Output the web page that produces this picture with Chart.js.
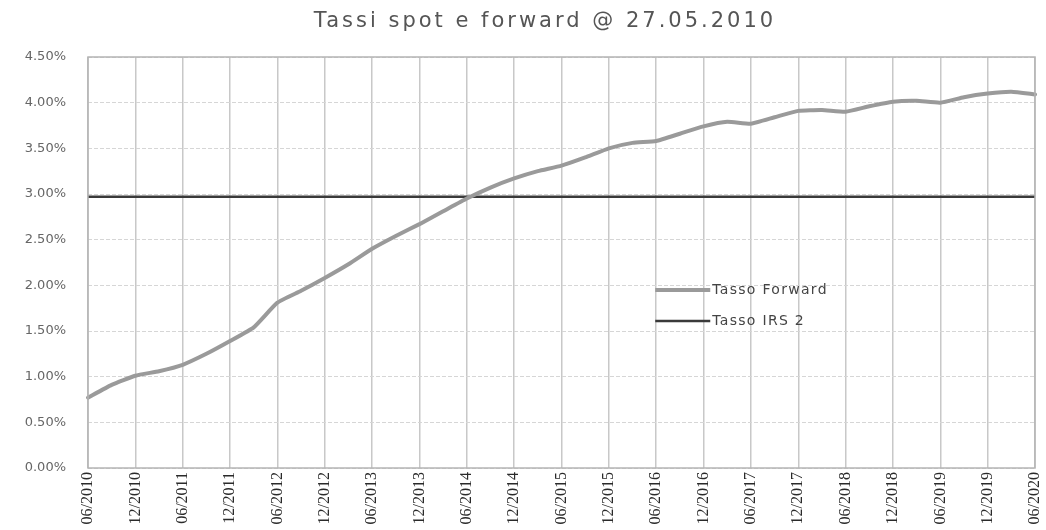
<!DOCTYPE html>
<html>
<head>
<meta charset="utf-8">
<script src="https://cdn.jsdelivr.net/npm/chart.js@4"></script>
<style>
  body { margin: 0; background: #fff; }
  #wrap { width: 1046px; height: 530px; }
</style>
</head>
<body>
<div id="wrap"><canvas id="ratesChart" width="1046" height="530"></canvas></div>
<script>
// quarterly dates, only 06/ and 12/ are labelled
const dates = [
  "06/2010", "09/2010", "12/2010", "03/2011", "06/2011", "09/2011", "12/2011", "03/2012",
  "06/2012", "09/2012", "12/2012", "03/2013", "06/2013", "09/2013", "12/2013", "03/2014",
  "06/2014", "09/2014", "12/2014", "03/2015", "06/2015", "09/2015", "12/2015", "03/2016",
  "06/2016", "09/2016", "12/2016", "03/2017", "06/2017", "09/2017", "12/2017", "03/2018",
  "06/2018", "09/2018", "12/2018", "03/2019", "06/2019", "09/2019", "12/2019", "03/2020",
  "06/2020"
];

const tassoForward = [
  0.77, 0.91, 1.01, 1.06, 1.13, 1.25, 1.39, 1.54,
  1.81, 1.94, 2.08, 2.23, 2.40, 2.54, 2.67, 2.81,
  2.95, 3.07, 3.17, 3.25, 3.31, 3.40, 3.50, 3.56,
  3.58, 3.66, 3.74, 3.79, 3.77, 3.84, 3.91, 3.92,
  3.90, 3.96, 4.01, 4.02, 4.00, 4.06, 4.10, 4.12,
  4.09
];

const tassoIRS2 = 2.97;

const yTicks = [0, 0.5, 1, 1.5, 2, 2.5, 3, 3.5, 4, 4.5];

const chartTitle = "Tassi spot e forward @ 27.05.2010";

const legendItems = [
  { text: "Tasso Forward", color: "#9a9a9a", width: 4 },
  { text: "Tasso IRS 2", color: "#3a3a3a", width: 2.5 },
];

const plotFrame = {
  id: "plotFrame",
  afterDraw(chart) {
    const { ctx, chartArea: a } = chart;
    ctx.save();
    ctx.strokeStyle = "#b4b4b4";
    ctx.lineWidth = 1.5;
    ctx.strokeRect(a.left, a.top, a.right - a.left, a.bottom - a.top);

    // title, a bit right of centre like the original
    ctx.font = "21px 'DejaVu Sans'";
    ctx.letterSpacing = "3px";
    ctx.fillStyle = "#555";
    ctx.textAlign = "center";
    ctx.textBaseline = "middle";
    ctx.fillText(chartTitle, 545, 22);

    // legend inside the plot
    const lx = a.left + (a.right - a.left) * 0.599;
    const ly = a.top + (a.bottom - a.top) * 0.567;
    ctx.font = "14px 'DejaVu Sans'";
    ctx.letterSpacing = "1.3px";
    ctx.textAlign = "left";
    legendItems.forEach((item, i) => {
      const y = ly + i * 31;
      ctx.strokeStyle = item.color;
      ctx.lineWidth = item.width;
      ctx.beginPath();
      ctx.moveTo(lx, y);
      ctx.lineTo(lx + 55, y);
      ctx.stroke();
      ctx.fillStyle = "#444";
      ctx.fillText(item.text, lx + 57, y);
    });
    ctx.letterSpacing = "0px";
    ctx.restore();
  },
};

new Chart(document.getElementById("ratesChart"), {
  type: "line",
  data: {
    labels: dates,
    datasets: [
      {
        label: "Tasso Forward",
        data: tassoForward,
        borderColor: "#9a9a9a",
        borderWidth: 4,
        pointRadius: 0,
        tension: 0.15,
        borderJoinStyle: "round",
        borderCapStyle: "round",
      },
      {
        label: "Tasso IRS 2",
        data: [
          { x: dates[0], y: tassoIRS2 },
          { x: dates[dates.length - 1], y: tassoIRS2 },
        ],
        borderColor: "#3a3a3a",
        borderWidth: 2.5,
        pointRadius: 0,
      },
    ],
  },
  options: {
    responsive: false,
    animation: false,
    layout: { padding: { left: 0, right: 11, top: 57, bottom: 0 } },
    plugins: {
      legend: { display: false },
      tooltip: { enabled: false },
      title: { display: false },
    },
    scales: {
      x: {
        grid: {
          color: (c) => (c.index % 2 === 0 ? "#c8c8c8" : "rgba(0,0,0,0)"),
          lineWidth: 1.5,
          drawTicks: false,
        },
        border: { display: false },
        ticks: {
          autoSkip: false,
          minRotation: 90,
          maxRotation: 90,
          padding: 4,
          color: "#2a2a2a",
          font: { family: "'Liberation Sans Narrow'", size: 16 },
          callback: (v, i) => (i % 2 === 0 ? dates[i] : ""),
        },
        afterFit: (s) => {
          s.height = 62;
          s.paddingLeft = 0;
          s.paddingRight = 0;
        },
      },
      y: {
        min: 0,
        max: 4.5,
        afterBuildTicks: (s) => { s.ticks = yTicks.map((v) => ({ value: v })); },
        grid: { color: "#d6d6d6", drawTicks: false },
        border: { display: false, dash: [4, 2] },
        ticks: {
          padding: 22,
          color: "#666",
          font: { family: "'DejaVu Sans'", size: 13 },
          callback: (v) => v.toFixed(2) + "%",
        },
        afterFit: (s) => {
          s.width = 88;
          s.paddingTop = 0;
          s.paddingBottom = 0;
        },
      },
    },
  },
  plugins: [plotFrame],
});
</script>
</body>
</html>
